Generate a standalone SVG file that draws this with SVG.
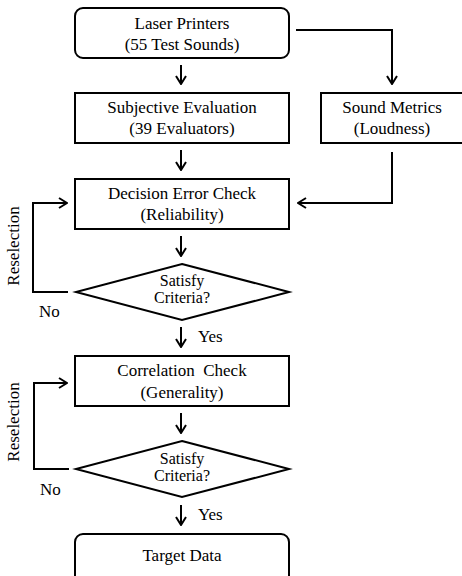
<svg xmlns="http://www.w3.org/2000/svg" width="462" height="576" viewBox="0 0 462 576" font-family="Liberation Serif, DejaVu Serif, serif" font-size="17">
<defs>
<style>
.box{fill:#fff;stroke:#000;stroke-width:2}
.ln{fill:none;stroke:#000;stroke-width:2}
.t{text-anchor:middle}
.d{font-size:16px}
</style>
<marker id="ah" viewBox="0 0 12 12" refX="11" refY="6" markerWidth="12" markerHeight="12" markerUnits="userSpaceOnUse" orient="auto">
<polyline points="3,1 11,6 3,11" fill="none" stroke="#000" stroke-width="2"/>
</marker>
</defs>
<rect width="462" height="576" fill="#fff"/>
<g id="laser">
<rect class="box" x="75" y="8" width="214" height="50" rx="8"/>
<text class="t" x="182" y="29">Laser Printers</text>
<text class="t" x="182" y="50">(55 Test Sounds)</text>
</g>
<g id="subjective">
<rect class="box" x="75" y="93" width="214" height="50"/>
<text class="t" x="182" y="113">Subjective Evaluation</text>
<text class="t" x="182" y="134">(39 Evaluators)</text>
</g>
<g id="metrics">
<rect class="box" x="321" y="93" width="145" height="50"/>
<text class="t" x="392" y="113">Sound Metrics</text>
<text class="t" x="392" y="134">(Loudness)</text>
</g>
<g id="decision">
<rect class="box" x="75" y="179" width="214" height="50"/>
<text class="t" x="182" y="199">Decision Error Check</text>
<text class="t" x="182" y="220">(Reliability)</text>
</g>
<g id="diamond1">
<polygon class="box" points="182,264 289,292 182,320 76,292"/>
<text class="t d" x="182" y="286">Satisfy</text>
<text class="t d" x="182" y="303">Criteria?</text>
</g>
<g id="correlation">
<rect class="box" x="75" y="356" width="214" height="50"/>
<text class="t" x="182" y="376" xml:space="preserve">Correlation  Check</text>
<text class="t" x="182" y="398">(Generality)</text>
</g>
<g id="diamond2">
<polygon class="box" points="182,441 289,469 182,497 76,469"/>
<text class="t d" x="182" y="464">Satisfy</text>
<text class="t d" x="182" y="481">Criteria?</text>
</g>
<g id="target">
<rect class="box" x="75" y="534" width="214" height="50" rx="8"/>
<text class="t" x="182" y="561">Target Data</text>
</g>
<g id="connectors">
<line class="ln" x1="181" y1="65" x2="181" y2="84" marker-end="url(#ah)"/>
<polyline class="ln" points="296,30 392,30 392,84" marker-end="url(#ah)"/>
<line class="ln" x1="181" y1="150" x2="181" y2="170" marker-end="url(#ah)"/>
<polyline class="ln" points="392,152 392,203 298,203" marker-end="url(#ah)"/>
<line class="ln" x1="181" y1="236" x2="181" y2="256" marker-end="url(#ah)"/>
<polyline class="ln" points="68,292 33,292 33,203 67,203" marker-end="url(#ah)"/>
<line class="ln" x1="181" y1="327" x2="181" y2="347" marker-end="url(#ah)"/>
<line class="ln" x1="181" y1="413" x2="181" y2="433" marker-end="url(#ah)"/>
<polyline class="ln" points="69,469 34,469 34,383 67,383" marker-end="url(#ah)"/>
<line class="ln" x1="181" y1="505" x2="181" y2="525" marker-end="url(#ah)"/>
<text x="198" y="342">Yes</text>
<text x="39" y="317">No</text>
<text class="t" transform="translate(19,246) rotate(-90)">Reselection</text>
<text x="198" y="520">Yes</text>
<text x="40" y="495">No</text>
<text class="t" transform="translate(19,422) rotate(-90)">Reselection</text>
</g>
</svg>
